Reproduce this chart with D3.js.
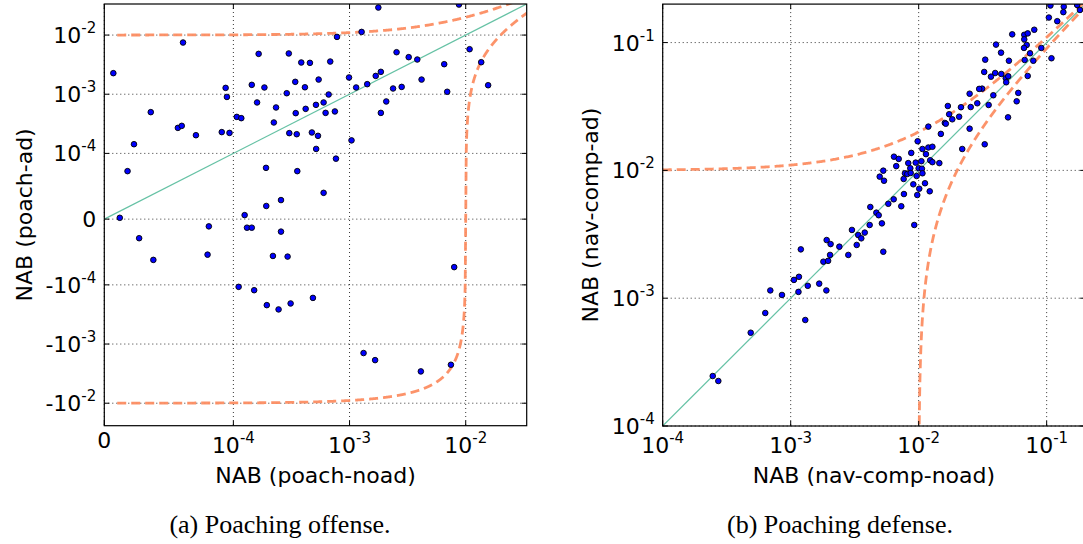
<!DOCTYPE html>
<html>
<head>
<meta charset="utf-8">
<script src="https://d3js.org/d3.v7.min.js"></script>
<style>
  body { margin: 0; background: #fff; }
  text { font-family: "DejaVu Sans", sans-serif; fill: #000; }
  .cap { font-family: "Liberation Serif", serif; }
</style>
</head>
<body>
<svg width="1083" height="544"></svg>
<script>
// (a) poaching offense: [NAB poach-noad, NAB poach-ad]
const offensePoints = [
  [7.0e-6, 2.27e-3], [6.1e-5, 7.48e-3], [3.6e-5, 4.98e-4], [2.3e-5, 1.43e-4], [1.8e-5, 7.3e-5],
  [5.7e-5, 2.70e-4], [6.0e-5, 2.92e-4], [7.1e-5, 2.03e-4], [9.1e-5, 2.29e-4], [9.7e-5, 2.22e-4],
  [9.4e-5, 1.28e-3], [9.5e-5, 9.0e-4], [1.07e-4, 4.14e-4], [1.17e-4, 3.94e-4], [1.65e-4, 4.81e-3],
  [1.44e-4, 1.44e-3], [1.85e-4, 1.30e-3], [1.6e-4, 7.26e-4], [1.91e-4, 7.8e-5], [1.92e-4, 2.0e-5],
  [1.2e-5, 2e-6], [1.25e-4, 6.1e-6], [1.31e-4, -1.3e-5], [1.44e-4, -1.3e-5], [8.1e-5, -1.1e-5],
  [2.7e-5, -2.9e-5], [3.8e-5, -6.2e-5], [8.0e-5, -5.4e-5], [1.11e-4, -1.08e-4], [1.51e-4, -1.23e-4],
  [1.94e-4, -2.20e-4], [1.77e-3, 2.92e-2], [8.75e-3, 3.28e-2], [1.27e-3, 1.13e-2], [7.8e-4, 9.31e-3],
  [3.0e-4, 4.89e-3], [3.84e-4, 3.44e-3], [4.56e-4, 3.39e-3], [6.82e-4, 3.57e-3], [2.54e-3, 5.13e-3],
  [3.23e-3, 4.23e-3], [3.83e-3, 3.86e-3], [6.53e-3, 3.22e-3], [1.08e-2, 5.77e-3], [1.36e-2, 3.48e-3],
  [1.56e-2, 1.42e-3], [6.93e-3, 1.10e-3], [4.17e-3, 1.77e-3], [2.81e-3, 1.33e-3], [2.37e-3, 1.25e-3],
  [1.86e-3, 2.39e-3], [1.68e-3, 2.04e-3], [1.42e-3, 1.48e-3], [1.14e-3, 1.30e-3], [9.9e-4, 1.92e-3],
  [2.07e-3, 7.55e-4], [1.86e-3, 4.84e-4], [3.41e-4, 1.62e-3], [4.13e-4, 1.31e-3], [5.42e-4, 1.77e-3],
  [2.88e-4, 1.04e-3], [6.61e-4, 9.9e-4], [2.33e-4, 5.97e-4], [3.44e-4, 4.79e-4], [4.19e-4, 5.66e-4],
  [5.14e-4, 6.61e-4], [5.98e-4, 7.26e-4], [6.22e-4, 4.84e-4], [7.48e-4, 5.12e-4], [2.23e-4, 3.33e-4],
  [3.03e-4, 2.20e-4], [3.51e-4, 2.11e-4], [4.74e-4, 2.26e-4], [5.35e-4, 1.98e-4], [5.16e-4, 1.19e-4],
  [1.04e-3, 1.66e-4], [7.64e-4, 9.2e-5], [3.55e-4, 7.3e-5], [5.98e-4, 4.0e-5], [2.57e-4, 2.9e-5],
  [2.57e-4, -1.9e-5], [2.19e-4, -5.6e-5], [2.93e-4, -5.7e-5], [2.45e-4, -2.60e-4], [3.11e-4, -2.06e-4],
  [4.84e-4, -1.66e-4], [1.32e-3, -1.42e-3], [1.66e-3, -1.87e-3], [4.11e-3, -2.90e-3], [7.46e-3, -2.24e-3],
  [7.96e-3, -7.3e-5]
];

// (b) poaching defense: [NAB nav-comp-noad, NAB nav-comp-ad]
const defensePoints = [
  [2.46e-4, 2.46e-4], [2.72e-4, 2.25e-4], [4.87e-4, 5.37e-4], [6.33e-4, 7.66e-4], [6.93e-4, 1.15e-3],
  [8.55e-4, 1.06e-3], [1.06e-3, 1.39e-3], [1.16e-3, 1.47e-3], [1.15e-3, 1.12e-3], [1.36e-3, 1.25e-3],
  [1.30e-3, 6.75e-4], [1.20e-3, 2.41e-3], [1.67e-3, 1.30e-3], [1.90e-3, 1.15e-3], [1.80e-3, 1.93e-3],
  [1.96e-3, 1.96e-3], [2.03e-3, 2.18e-3], [1.91e-3, 2.85e-3], [2.05e-3, 2.65e-3], [2.40e-3, 2.53e-3],
  [2.82e-3, 2.18e-3], [3.01e-3, 3.42e-3], [3.28e-3, 2.61e-3], [3.37e-3, 3.12e-3], [3.56e-3, 2.94e-3],
  [3.79e-3, 3.26e-3], [5.29e-3, 2.31e-3], [1.07e-1, 1.95e-1], [1.36e-1, 1.91e-1], [1.73e-1, 1.97e-1],
  [1.82e-1, 1.80e-1], [1.35e-1, 1.73e-1], [1.04e-1, 1.57e-1], [1.21e-1, 1.47e-1], [5.38e-2, 1.16e-1],
  [6.68e-2, 1.15e-1], [7.11e-2, 1.18e-1], [8.0e-2, 1.26e-1], [6.68e-2, 1.06e-1], [6.98e-2, 9.58e-2],
  [6.65e-2, 9.08e-2], [4.02e-2, 9.64e-2], [4.40e-2, 8.34e-2], [7.41e-2, 8.24e-2], [9.08e-2, 9.08e-2],
  [5.07e-2, 7.21e-2], [6.73e-2, 7.31e-2], [7.86e-2, 7.21e-2], [1.09e-1, 7.54e-2], [3.31e-2, 7.35e-2],
  [3.25e-2, 5.89e-2], [3.96e-2, 5.78e-2], [4.42e-2, 5.68e-2], [3.67e-2, 5.41e-2], [4.79e-2, 5.26e-2],
  [5.01e-2, 5.45e-2], [4.83e-2, 4.89e-2], [7.11e-2, 5.48e-2], [3.13e-2, 4.36e-2], [2.97e-2, 4.34e-2],
  [2.50e-2, 3.98e-2], [3.83e-2, 3.87e-2], [6.0e-2, 4.04e-2], [5.83e-2, 3.47e-2], [2.87e-2, 3.35e-2],
  [2.55e-2, 3.13e-2], [3.52e-2, 3.25e-2], [2.14e-2, 3.12e-2], [1.69e-2, 3.19e-2], [1.73e-2, 2.75e-2],
  [1.83e-2, 2.51e-2], [2.07e-2, 2.63e-2], [1.60e-2, 2.35e-2], [1.63e-2, 2.32e-2], [1.19e-2, 2.20e-2],
  [4.99e-2, 2.60e-2], [2.50e-2, 2.12e-2], [1.49e-2, 1.93e-2], [2.19e-2, 1.47e-2], [3.28e-2, 1.60e-2],
  [9.82e-3, 1.69e-2], [1.07e-2, 1.47e-2], [1.19e-2, 1.51e-2], [1.28e-2, 1.53e-2], [1.14e-2, 1.34e-2],
  [8.75e-3, 1.37e-2], [6.41e-3, 1.28e-2], [6.98e-3, 1.23e-2], [6.68e-3, 1.08e-2], [8.29e-3, 1.14e-2],
  [9.48e-3, 1.15e-2], [1.05e-2, 1.18e-2], [1.23e-2, 1.20e-2], [1.28e-2, 1.16e-2], [1.45e-2, 1.14e-2],
  [5.29e-3, 9.95e-3], [4.96e-3, 8.93e-3], [5.36e-3, 8.30e-3], [7.81e-3, 9.49e-3], [8.15e-3, 9.37e-3],
  [7.63e-3, 8.57e-3], [8.60e-3, 1.04e-2], [8.66e-3, 9.55e-3], [1.00e-2, 1.04e-2], [1.06e-2, 1.03e-2],
  [1.07e-2, 9.49e-3], [9.64e-3, 9.04e-3], [9.08e-3, 7.78e-3], [1.12e-2, 7.93e-3], [1.01e-2, 7.19e-3],
  [1.22e-2, 6.86e-3], [9.75e-3, 6.42e-3], [7.67e-3, 6.53e-3], [6.38e-3, 5.94e-3], [5.79e-3, 5.48e-3],
  [7.31e-3, 5.24e-3], [4.19e-3, 5.17e-3], [4.67e-3, 4.67e-3], [4.87e-3, 4.46e-3], [5.16e-3, 3.85e-3],
  [9.24e-3, 3.74e-3], [4.14e-3, 3.74e-3]
];

const offenseXTicks = [0, 1e-4, 1e-3, 1e-2];
const offenseYTicks = [-1e-2, -1e-3, -1e-4, 0, 1e-4, 1e-3, 1e-2];
const defenseTicks = [1e-4, 1e-3, 1e-2, 1e-1];
const offenseDomainX = [0, 0.0335];
const offenseDomainY = [-0.024, 0.0335];
const defenseDomain = [1e-4, 0.2];
const linthresh = 1e-4;   // symlog linear range
const margin = 0.01;      // y = x +/- margin reference curves

const svg = d3.select("svg");

// matplotlib-style symlog (base 10, linscale 1)
const linscale = 1 / (1 - 1 / 10);
function symlog(v) {
  const a = Math.abs(v), s = Math.sign(v);
  if (a <= linthresh) return s * a / linthresh * linscale;
  return s * (linscale + Math.log10(a / linthresh));
}
function symlogInv(t) {
  const a = Math.abs(t), s = Math.sign(t);
  if (a <= linscale) return s * a / linscale * linthresh;
  return s * linthresh * Math.pow(10, a - linscale);
}

function symlogScale(domain, range) {
  const lin = d3.scaleLinear().domain(domain.map(symlog)).range(range);
  const f = v => lin(symlog(v));
  f.range = () => range;
  return f;
}

function powLabel(sel, v) {
  if (v === 0) { sel.append("tspan").text("0"); return; }
  const e = Math.round(Math.log10(Math.abs(v)));
  sel.append("tspan").text((v < 0 ? "-" : "") + "10");
  sel.append("tspan").attr("dy", -10).style("font-size", "15px")
    .text((e < 0 ? "-" : "") + Math.abs(e));
}

function drawPanel(p) {
  const [x0, x1] = p.x.range();
  const [y1, y0] = p.y.range();
  const g = svg.append("g");
  const clipId = "clip" + p.id;
  svg.append("clipPath").attr("id", clipId)
    .append("rect").attr("x", x0).attr("y", y0).attr("width", x1 - x0).attr("height", y1 - y0);

  // grid
  g.selectAll(".gx").data(p.xTicks).enter().append("line")
    .attr("x1", d => p.x(d)).attr("x2", d => p.x(d)).attr("y1", y0).attr("y2", y1)
    .attr("stroke", "#000").attr("stroke-width", 0.8).attr("stroke-dasharray", "1,3");
  g.selectAll(".gy").data(p.yTicks).enter().append("line")
    .attr("y1", d => p.y(d)).attr("y2", d => p.y(d)).attr("x1", x0).attr("x2", x1)
    .attr("stroke", "#000").attr("stroke-width", 0.8).attr("stroke-dasharray", "1,3");

  const plot = g.append("g").attr("clip-path", `url(#${clipId})`);

  // reference curves
  p.curves.forEach(c => {
    plot.append("path").datum(c.pts)
      .attr("fill", "none").attr("stroke", c.color).attr("stroke-width", c.width)
      .attr("stroke-dasharray", c.dash || null).attr("opacity", c.opacity || 1)
      .attr("d", d3.line().x(d => p.x(d[0])).y(d => p.y(d[1])));
  });

  // points
  plot.selectAll("circle").data(p.points).enter().append("circle")
    .attr("cx", d => p.x(d[0])).attr("cy", d => p.y(d[1])).attr("r", 2.8)
    .attr("fill", "#0000ff").attr("stroke", "#000").attr("stroke-width", 0.9);

  // frame
  g.append("rect").attr("x", x0).attr("y", y0).attr("width", x1 - x0).attr("height", y1 - y0)
    .attr("fill", "none").attr("stroke", "#000").attr("stroke-width", 1.2);

  // inward ticks
  p.xTicks.forEach(t => {
    const xx = p.x(t);
    g.append("line").attr("x1", xx).attr("x2", xx).attr("y1", y1).attr("y2", y1 - 5).attr("stroke", "#000");
    g.append("line").attr("x1", xx).attr("x2", xx).attr("y1", y0).attr("y2", y0 + 5).attr("stroke", "#000");
    const tx = g.append("text").attr("x", xx).attr("text-anchor", "middle")
      .attr("y", t === 0 ? y1 + 22 : y1 + 27).style("font-size", "22px");
    powLabel(tx, t);
  });
  p.yTicks.forEach(t => {
    const yy = p.y(t);
    g.append("line").attr("y1", yy).attr("y2", yy).attr("x1", x0).attr("x2", x0 + 5).attr("stroke", "#000");
    g.append("line").attr("y1", yy).attr("y2", yy).attr("x1", x1).attr("x2", x1 - 5).attr("stroke", "#000");
    const ty = g.append("text").attr("x", x0 - 8).attr("text-anchor", "end")
      .attr("y", yy + 8).style("font-size", "22px");
    powLabel(ty, t);
  });

  // axis labels
  g.append("text").attr("x", (x0 + x1) / 2).attr("y", 483).attr("text-anchor", "middle")
    .style("font-size", "22px").text(p.xLabel);
  g.append("text").attr("transform", `translate(${p.yLabelX},${(y0 + y1) / 2}) rotate(-90)`)
    .attr("text-anchor", "middle").style("font-size", "22px").text(p.yLabel);
  g.append("text").attr("class", "cap").attr("x", p.capX).attr("y", 533)
    .attr("text-anchor", "middle").style("font-size", "26px").text(p.caption);
}

// curve samples y = x +/- margin, evenly spaced in screen space
function curve(scaleT, inv, lo, hi, sign, n) {
  const pts = [];
  for (let i = 0; i <= n; i++) {
    const xv = inv(scaleT(lo) + (scaleT(hi) - scaleT(lo)) * i / n);
    pts.push([xv, xv + sign * margin]);
  }
  return pts;
}

const orange = "#fc8d62", green = "#66c2a5";

// panel (a)
const xA = symlogScale(offenseDomainX, [104.3, 526.7]);
const yA = symlogScale(offenseDomainY, [425.7, 4]);
drawPanel({
  id: "a", x: xA, y: yA, xTicks: offenseXTicks, yTicks: offenseYTicks, points: offensePoints,
  xLabel: "NAB (poach-noad)", yLabel: "NAB (poach-ad)", yLabelX: 32,
  caption: "(a) Poaching offense.", capX: 280,
  curves: [
    { pts: [[offenseDomainX[0], offenseDomainX[0]], [offenseDomainX[1], offenseDomainX[1]]], color: green, width: 1.2 },
    { pts: curve(symlog, symlogInv, 1e-5, offenseDomainX[1], 1, 600), color: orange, width: 2.8, dash: "9,5", opacity: 0.95 },
    { pts: curve(symlog, symlogInv, 1e-5, offenseDomainX[1], -1, 3000), color: orange, width: 2.8, dash: "9,5", opacity: 0.95 }
  ]
});

// panel (b)
const xB = d3.scaleLog().domain(defenseDomain).range([662.7, 1085.2]);
const yB = d3.scaleLog().domain(defenseDomain).range([426, 4.1]);
const lg = v => Math.log10(v), lgInv = t => Math.pow(10, t);
drawPanel({
  id: "b", x: xB, y: yB, xTicks: defenseTicks, yTicks: defenseTicks, points: defensePoints,
  xLabel: "NAB (nav-comp-noad)", yLabel: "NAB (nav-comp-ad)", yLabelX: 598,
  caption: "(b) Poaching defense.", capX: 840,
  curves: [
    { pts: [[defenseDomain[0], defenseDomain[0]], [defenseDomain[1], defenseDomain[1]]], color: green, width: 1.2 },
    { pts: curve(lg, lgInv, defenseDomain[0], defenseDomain[1], 1, 400), color: orange, width: 2.8, dash: "9,5", opacity: 0.95 },
    { pts: curve(lg, lgInv, margin * 1.0005, defenseDomain[1], -1, 2000), color: orange, width: 2.8, dash: "9,5", opacity: 0.95 }
  ]
});
</script>
</body>
</html>
